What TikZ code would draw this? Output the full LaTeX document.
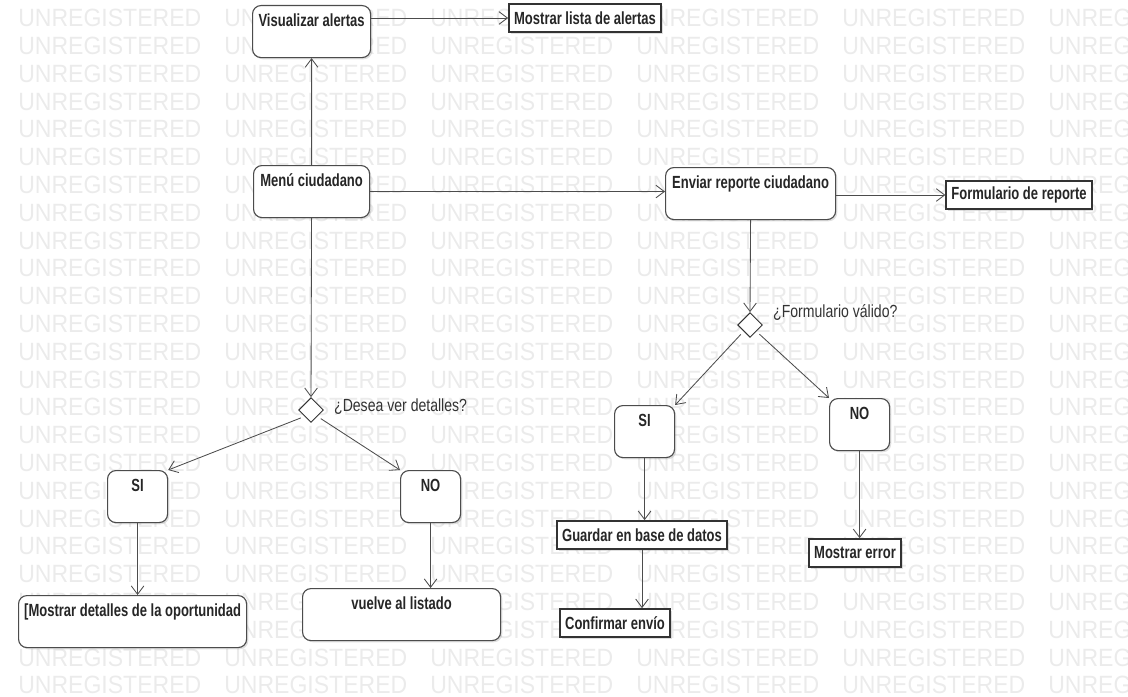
\documentclass[tikz,border=0pt]{standalone}
\usepackage{fontspec}
\setmainfont{Liberation Sans}
\newfontfamily\narrowfont[FakeStretch=0.74]{Liberation Sans}
\newfontfamily\guardfont[FakeStretch=0.8]{Liberation Sans}
\newfontfamily\wmfont[FakeStretch=0.92]{Liberation Sans}
\usetikzlibrary{shapes.geometric,arrows.meta,shadows,positioning}
\tikzset{
	act/.style={draw=black!70, line width=0.8pt, rounded corners=6pt, fill=white,
		drop shadow={shadow xshift=1.2pt,shadow yshift=-1.2pt,opacity=0.25},
		anchor=north west, inner xsep=0.1cm, inner ysep=0.22cm,
		text height=0.31cm, text depth=0.55cm, text=black!85,
		font=\narrowfont\bfseries\fontsize{12.5}{14}\selectfont},
	res/.style={draw=black!80, line width=1.2pt, fill=white,
		drop shadow={shadow xshift=1.2pt,shadow yshift=-1.2pt,opacity=0.25},
		inner xsep=0.13cm, minimum height=0.7cm, text=black!85,
		font=\narrowfont\bfseries\fontsize{12.5}{14}\selectfont},
	cond/.style={diamond, draw=black!80, line width=0.7pt, fill=white,
		minimum width=0.62cm, minimum height=0.62cm, inner sep=0pt},
	guard/.style={text=black!80, anchor=west, inner sep=0pt,
		font=\guardfont\fontsize{12.5}{14}\selectfont},
	link/.style={-{Straight Barb[length=6pt,width=9pt]}, draw=black!70, line width=0.6pt},
	wmark/.style={text=black!8, anchor=west, inner sep=0pt,
		font=\wmfont\fontsize{17.8}{20}\selectfont}
}
\begin{document}
\begin{tikzpicture}[x=0.025cm, y=-0.025cm]
	\useasboundingbox (0,0) rectangle (1128,696);
	%watermark in the back
	\begin{scope}
		\clip (0,0) rectangle (1128,696);
		\foreach \r in {0,...,24}
			\foreach \c in {0,...,5}
				\node[wmark] (wm-\r-\c) at ({18+206*\c},{18+27.8*\r}) {UNREGISTERED};
	\end{scope}
	%top row
	\node[act, minimum width=2.95cm] (vis) at (252,5) {Visualizar alertas};
	\node[res] (lista) at (585,18) {Mostrar lista de alertas};
	%middle row
	\node[act, minimum width=2.9cm] (menu) at (253,165) {Menú ciudadano};
	\node[act, minimum width=4.25cm] (env) at (665,167) {Enviar reporte ciudadano};
	\node[res] (form) at (1019,195) {Formulario de reporte};
	%left decision
	\node[cond] (d1) at (311,410) {};
	\node[guard] (q1) at ([xshift=0.25cm,yshift=0.08cm]d1.east) {¿Desea ver detalles?};
	\node[act, minimum width=1.5cm] (si1) at (107,470) {SI};
	\node[act, minimum width=1.5cm] (no1) at (400,470) {NO};
	\node[act, minimum width=5.7cm] (det) at (18,595) {[Mostrar detalles de la oportunidad};
	\node[act, minimum width=4.95cm] (vuel) at (302,588) {vuelve al listado};
	%right decision
	\node[cond] (d2) at (750,325) {};
	\node[guard] (q2) at ([xshift=0.25cm,yshift=0.3cm]d2.east) {¿Formulario válido?};
	\node[act, minimum width=1.5cm] (si2) at (614,405) {SI};
	\node[act, minimum width=1.5cm] (no2) at (829,398) {NO};
	\node[res] (gua) at (642,535) {Guardar en base de datos};
	\node[res] (conf) at (615,623) {Confirmar envío};
	\node[res] (err) at (855,553) {Mostrar error};
	%arrows
	\draw[link] (menu.north) -- (vis.south);
	\draw[link] (vis.east |- lista.west) -- (lista.west);
	\draw[link] (menu.east) -- (menu.east -| env.west);
	\draw[link] (env.east |- form.west) -- (form.west);
	\draw[link] (menu.south) -- (d1.north);
	\draw[link] (env.south) -- (d2.north);
	\draw[link, shorten <=0.1cm] (d1.south west) -- (si1.north east);
	\draw[link, shorten <=0.1cm] (d1.south east) -- (no1.north west);
	\draw[link, shorten <=0.1cm] (d2.south west) -- (si2.north east);
	\draw[link, shorten <=0.1cm] (d2.south east) -- (no2.north west);
	\draw[link] (si1.south) -- (si1.south |- det.north);
	\draw[link] (no1.south) -- (no1.south |- vuel.north);
	\draw[link] (si2.south) -- (si2.south |- gua.north);
	\draw[link] (gua.south) -- (gua.south |- conf.north);
	\draw[link] (no2.south) -- (no2.south |- err.north);
\end{tikzpicture}
\end{document}
